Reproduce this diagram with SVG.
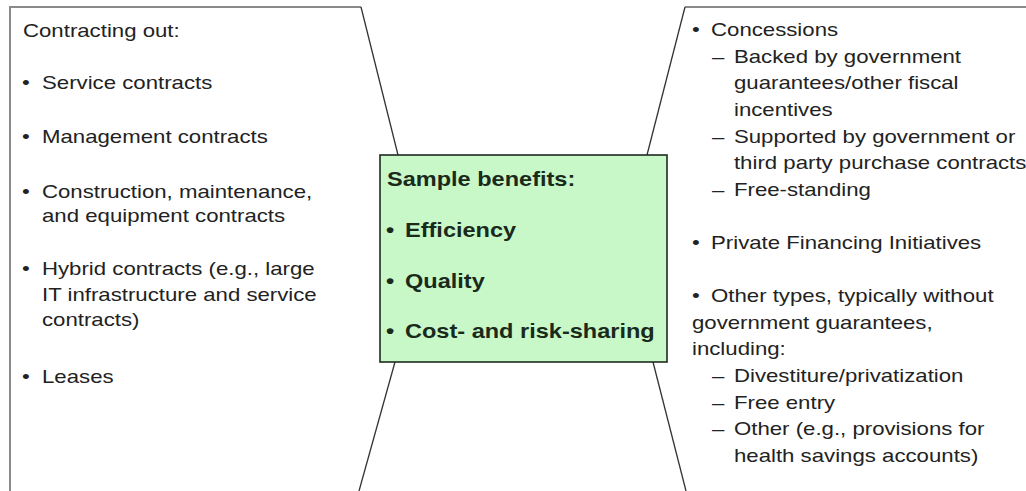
<svg xmlns="http://www.w3.org/2000/svg" width="1026" height="491" viewBox="0 0 1026 491">
<style>
.t{font-family:"Liberation Sans",Arial,sans-serif;font-size:18.2px;fill:#222}
.b{font-family:"Liberation Sans",Arial,sans-serif;font-size:19.3px;font-weight:bold;fill:#1a2a1a}
.frame{fill:none;stroke:#8a8a8a;stroke-width:2}
.conn{fill:none;stroke:#333;stroke-width:1.3}
</style>
<rect width="1026" height="491" fill="#ffffff"/>
<g id="left-panel">
<polyline class="frame" points="10,491 10,7 361,7"/>
<g transform="scale(1.22 1)">
<text class="t" x="18.85" y="37">Contracting out:</text>
<text class="t" x="18.03" y="89">•</text><text class="t" x="34.43" y="89">Service contracts</text>
<text class="t" x="18.03" y="143">•</text><text class="t" x="34.43" y="143">Management contracts</text>
<text class="t" x="18.03" y="198">•</text><text class="t" x="34.43" y="198">Construction, maintenance,</text>
<text class="t" x="34.43" y="222">and equipment contracts</text>
<text class="t" x="18.03" y="275">•</text><text class="t" x="34.43" y="275">Hybrid contracts (e.g., large</text>
<text class="t" x="34.43" y="301">IT infrastructure and service</text>
<text class="t" x="34.43" y="326">contracts)</text>
<text class="t" x="18.03" y="383">•</text><text class="t" x="34.43" y="383">Leases</text>
</g>
</g>
<g id="right-panel">
<polyline class="frame" points="685,7 1026,7"/>
<g transform="scale(1.22 1)">
<text class="t" x="567.2" y="36">•</text><text class="t" x="582.8" y="36">Concessions</text>
<text class="t" x="583.6" y="63">–</text><text class="t" x="601.6" y="63">Backed by government</text>
<text class="t" x="601.6" y="89">guarantees/other fiscal</text>
<text class="t" x="601.6" y="116">incentives</text>
<text class="t" x="583.6" y="143">–</text><text class="t" x="601.6" y="143">Supported by government or</text>
<text class="t" x="601.6" y="169">third party purchase contracts</text>
<text class="t" x="583.6" y="196">–</text><text class="t" x="601.6" y="196">Free-standing</text>
<text class="t" x="567.2" y="249">•</text><text class="t" x="582.8" y="249">Private Financing Initiatives</text>
<text class="t" x="567.2" y="302">•</text><text class="t" x="582.8" y="302">Other types, typically without</text>
<text class="t" x="567.2" y="329">government guarantees,</text>
<text class="t" x="567.2" y="355">including:</text>
<text class="t" x="583.6" y="382">–</text><text class="t" x="601.6" y="382">Divestiture/privatization</text>
<text class="t" x="583.6" y="409">–</text><text class="t" x="601.6" y="409">Free entry</text>
<text class="t" x="583.6" y="435">–</text><text class="t" x="601.6" y="435">Other (e.g., provisions for</text>
<text class="t" x="601.6" y="462">health savings accounts)</text>
</g>
</g>
<g id="connectors">
<line class="conn" x1="361" y1="7" x2="398" y2="155"/>
<line class="conn" x1="685" y1="7" x2="647" y2="155"/>
<line class="conn" x1="395" y1="362" x2="359" y2="491"/>
<line class="conn" x1="653" y1="362" x2="686" y2="491"/>
</g>
<g id="center-box">
<rect x="380" y="155" width="287" height="207" fill="#c8f8c8" stroke="#1e2a1e" stroke-width="1.6"/>
<g transform="scale(1.22 1)">
<text class="b" x="317.2" y="186">Sample benefits:</text>
<text class="b" x="316.4" y="237">•</text><text class="b" x="331.97" y="237">Efficiency</text>
<text class="b" x="316.4" y="288">•</text><text class="b" x="331.97" y="288">Quality</text>
<text class="b" x="316.4" y="338">•</text><text class="b" x="331.97" y="338">Cost- and risk-sharing</text>
</g>
</g>
</svg>
